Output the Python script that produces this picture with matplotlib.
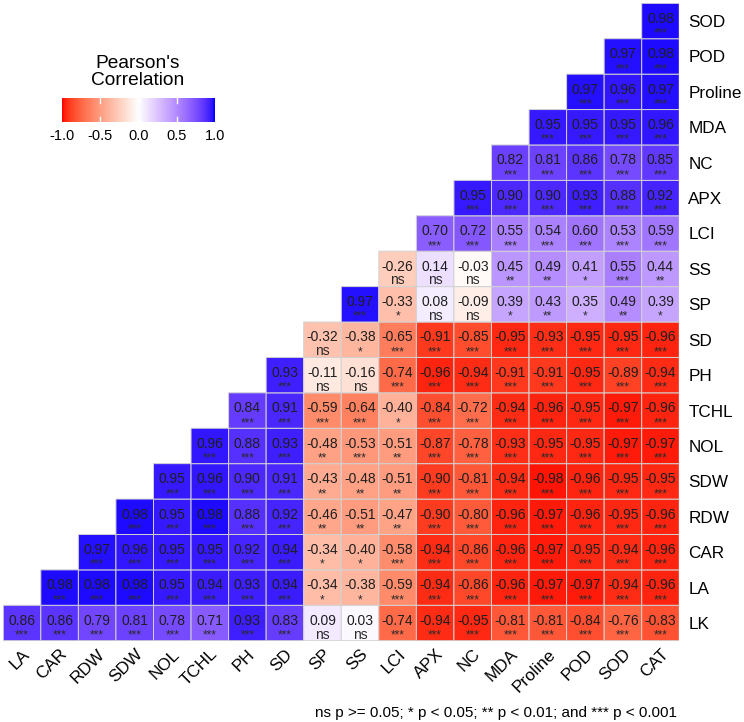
import numpy as np
import matplotlib
matplotlib.use("Agg")
import matplotlib.pyplot as plt
from matplotlib.colors import ListedColormap

plt.rcParams['font.family'] = ['Liberation Sans', 'DejaVu Sans']

# variables along x (left->right) and y (bottom->top)
x_vars = ["LA", "CAR", "RDW", "SDW", "NOL", "TCHL", "PH", "SD", "SP", "SS",
          "LCI", "APX", "NC", "MDA", "Proline", "POD", "SOD", "CAT"]
y_vars = ["LK", "LA", "CAR", "RDW", "SDW", "NOL", "TCHL", "PH", "SD", "SP",
          "SS", "LCI", "APX", "NC", "MDA", "Proline", "POD", "SOD"]

# correlation per y row, starting at the diagonal column
r_LK = [0.86, 0.86, 0.79, 0.81, 0.78, 0.71, 0.93, 0.83, 0.09, 0.03, -0.74, -0.94, -0.95, -0.81, -0.81, -0.84, -0.76, -0.83]
r_LA = [0.98, 0.98, 0.98, 0.95, 0.94, 0.93, 0.94, -0.34, -0.38, -0.59, -0.94, -0.86, -0.96, -0.97, -0.97, -0.94, -0.96]
r_CAR = [0.97, 0.96, 0.95, 0.95, 0.92, 0.94, -0.34, -0.40, -0.58, -0.94, -0.86, -0.96, -0.97, -0.95, -0.94, -0.96]
r_RDW = [0.98, 0.95, 0.98, 0.88, 0.92, -0.46, -0.51, -0.47, -0.90, -0.80, -0.96, -0.97, -0.96, -0.95, -0.96]
r_SDW = [0.95, 0.96, 0.90, 0.91, -0.43, -0.48, -0.51, -0.90, -0.81, -0.94, -0.98, -0.96, -0.95, -0.95]
r_NOL = [0.96, 0.88, 0.93, -0.48, -0.53, -0.51, -0.87, -0.78, -0.93, -0.95, -0.95, -0.97, -0.97]
r_TCHL = [0.84, 0.91, -0.59, -0.64, -0.40, -0.84, -0.72, -0.94, -0.96, -0.95, -0.97, -0.96]
r_PH = [0.93, -0.11, -0.16, -0.74, -0.96, -0.94, -0.91, -0.91, -0.95, -0.89, -0.94]
r_SD = [-0.32, -0.38, -0.65, -0.91, -0.85, -0.95, -0.93, -0.95, -0.95, -0.96]
r_SP = [0.97, -0.33, 0.08, -0.09, 0.39, 0.43, 0.35, 0.49, 0.39]
r_SS = [-0.26, 0.14, -0.03, 0.45, 0.49, 0.41, 0.55, 0.44]
r_LCI = [0.70, 0.72, 0.55, 0.54, 0.60, 0.53, 0.59]
r_APX = [0.95, 0.90, 0.90, 0.93, 0.88, 0.92]
r_NC = [0.82, 0.81, 0.86, 0.78, 0.85]
r_MDA = [0.95, 0.95, 0.95, 0.96]
r_Proline = [0.97, 0.96, 0.97]
r_POD = [0.97, 0.98]
r_SOD = [0.98]

# significance labels, same layout
s_LK = ["***"] * 8 + ["ns", "ns"] + ["***"] * 8
s_LA = ["***"] * 7 + ["*", "*"] + ["***"] * 8
s_CAR = ["***"] * 6 + ["*", "*"] + ["***"] * 8
s_RDW = ["***"] * 5 + ["**", "**", "**"] + ["***"] * 7
s_SDW = ["***"] * 4 + ["**", "**", "**"] + ["***"] * 7
s_NOL = ["***"] * 3 + ["**", "***", "**"] + ["***"] * 7
s_TCHL = ["***"] * 4 + ["*"] + ["***"] * 7
s_PH = ["***", "ns", "ns"] + ["***"] * 8
s_SD = ["ns", "*"] + ["***"] * 8
s_SP = ["***", "*", "ns", "ns", "*", "**", "*", "**", "*"]
s_SS = ["ns", "ns", "ns", "**", "**", "*", "***", "**"]
s_LCI = ["***"] * 7
s_APX = ["***"] * 6
s_NC = ["***"] * 5
s_MDA = ["***"] * 4
s_Proline = ["***"] * 3
s_POD = ["***"] * 2
s_SOD = ["***"]

r_rows = [r_LK, r_LA, r_CAR, r_RDW, r_SDW, r_NOL, r_TCHL, r_PH, r_SD, r_SP,
          r_SS, r_LCI, r_APX, r_NC, r_MDA, r_Proline, r_POD, r_SOD]
s_rows = [s_LK, s_LA, s_CAR, s_RDW, s_SDW, s_NOL, s_TCHL, s_PH, s_SD, s_SP,
          s_SS, s_LCI, s_APX, s_NC, s_MDA, s_Proline, s_POD, s_SOD]

caption = "ns p >= 0.05; * p < 0.05; ** p < 0.01; and *** p < 0.001"


# red - white - blue gradient interpolated in CIELAB (like ggplot2)
_M = np.array([[0.4124, 0.3576, 0.1805], [0.2126, 0.7152, 0.0722], [0.0193, 0.1192, 0.9505]])
_W = np.array([0.95047, 1.0, 1.08883])
_d = 6 / 29


def to_lab(rgb):
    c = np.asarray(rgb, float)
    c = np.where(c <= 0.04045, c / 12.92, ((c + 0.055) / 1.055) ** 2.4)
    xyz = _M @ c / _W
    f = np.where(xyz > _d ** 3, np.cbrt(xyz), xyz / (3 * _d ** 2) + 4 / 29)
    return np.array([116 * f[1] - 16, 500 * (f[0] - f[1]), 200 * (f[1] - f[2])])


def from_lab(lab):
    L, a, b = lab
    fy = (L + 16) / 116
    f = np.array([fy + a / 500, fy, fy - b / 200])
    xyz = np.where(f > _d, f ** 3, 3 * _d ** 2 * (f - 4 / 29)) * _W
    c = np.linalg.inv(_M) @ xyz
    c = np.clip(c, 0, 1)
    c = np.where(c <= 0.0031308, 12.92 * c, 1.055 * c ** (1 / 2.4) - 0.055)
    return np.clip(c, 0, 1)


lab_lo, lab_mid, lab_hi = to_lab([1, 0, 0]), to_lab([1, 1, 1]), to_lab([0, 0, 1])
cols = []
for t in np.linspace(-1, 1, 256):
    if t < 0:
        cols.append(from_lab(lab_mid + (lab_lo - lab_mid) * (-t)))
    else:
        cols.append(from_lab(lab_mid + (lab_hi - lab_mid) * t))
cmap = ListedColormap(cols)

n = len(x_vars)
mat = np.full((n, n), np.nan)
for i, row in enumerate(r_rows):
    mat[i, i:i + len(row)] = row
mat = np.ma.masked_invalid(mat)

fig = plt.figure(figsize=(7.44, 7.22), dpi=100)
ax = fig.add_axes([0.0044, 0.1126, 0.9086, 0.8828])

# pcolor leaves masked cells out entirely (no edges in the empty half)
ax.pcolor(np.arange(n + 1) - 0.5, np.arange(n + 1) - 0.5, mat, cmap=cmap,
          vmin=-1, vmax=1, edgecolors='#d2d2d2', linewidth=0.7)

for i, (row, sig) in enumerate(zip(r_rows, s_rows)):
    for k, (v, s) in enumerate(zip(row, sig)):
        j = i + k
        ax.text(j, i - 0.05, "%.2f" % v, ha='center', va='baseline',
                fontsize=10, color='#1e1e1e')
        ax.text(j, i - 0.44, s, ha='center', va='baseline',
                fontsize=10 if s == "ns" else 8.5, color='#2a2a2a')

ax.set_xlim(-0.5, n - 0.5)
ax.set_ylim(-0.5, n - 0.5)
ax.set_xticks(np.arange(n))
ax.set_xticklabels(x_vars, rotation=45, ha='right', rotation_mode='anchor', fontsize=12.3)
ax.set_yticks(np.arange(n))
ax.set_yticklabels(y_vars, fontsize=12.3)
ax.yaxis.tick_right()
ax.tick_params(axis='both', length=0)
ax.tick_params(axis='x', pad=4)
ax.tick_params(axis='y', pad=6.5)
for sp in ax.spines.values():
    sp.set_visible(False)

# colour bar legend
cax = fig.add_axes([62 / 744, 1 - 122 / 722, 153 / 744, 24 / 722])
grad = np.linspace(-1, 1, 300).reshape(1, -1)
cax.imshow(grad, cmap=cmap, vmin=-1, vmax=1, aspect='auto', extent=(-1, 1, 0, 1))
for t in [-0.5, 0.0, 0.5]:
    cax.plot([t, t], [0, 0.2], color='white', lw=1)
    cax.plot([t, t], [0.8, 1], color='white', lw=1)
cax.set_xlim(-1, 1)
cax.set_ylim(0, 1)
cax.set_xticks([-1, -0.5, 0, 0.5, 1])
cax.set_xticklabels(["-1.0", "-0.5", "0.0", "0.5", "1.0"], fontsize=10.5)
cax.set_yticks([])
cax.tick_params(axis='x', length=0, pad=5)
for sp in cax.spines.values():
    sp.set_visible(False)

fig.text(138 / 744, 1 - 72 / 722, "Pearson's\nCorrelation", ha='center', va='center',
         fontsize=13.8, linespacing=0.95)

fig.text(677 / 744, 1 - 713 / 722, caption, ha='right', va='center', fontsize=11)

fig.savefig("out.png", dpi=100)
